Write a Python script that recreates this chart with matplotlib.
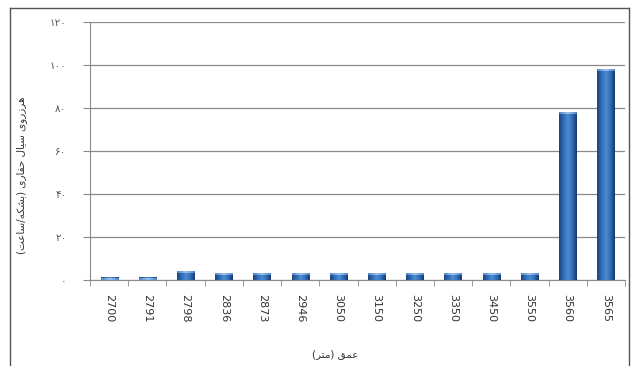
import numpy as np
import matplotlib
matplotlib.use("Agg")
import matplotlib.pyplot as plt
from matplotlib.colors import LinearSegmentedColormap
from matplotlib.lines import Line2D

depths = ["2700", "2791", "2798", "2836", "2873", "2946", "3050",
          "3150", "3250", "3350", "3450", "3550", "3560", "3565"]
mud_loss = [1, 1, 4, 3, 3, 3, 3, 3, 3, 3, 3, 3, 78, 98]
y_ticks = [0, 20, 40, 60, 80, 100, 120]

x_title = "عمق (متر)"
y_title = "هرزروی سیال حفاری (بشکه/ساعت)"

# presentation forms: isolated, final, initial, medial
FORMS = {
    "ا": ("\uFE8D", "\uFE8E", None, None),
    "ب": ("\uFE8F", "\uFE90", "\uFE91", "\uFE92"),
    "ت": ("\uFE95", "\uFE96", "\uFE97", "\uFE98"),
    "ح": ("\uFEA1", "\uFEA2", "\uFEA3", "\uFEA4"),
    "ر": ("\uFEAD", "\uFEAE", None, None),
    "ز": ("\uFEAF", "\uFEB0", None, None),
    "س": ("\uFEB1", "\uFEB2", "\uFEB3", "\uFEB4"),
    "ش": ("\uFEB5", "\uFEB6", "\uFEB7", "\uFEB8"),
    "ع": ("\uFEC9", "\uFECA", "\uFECB", "\uFECC"),
    "ف": ("\uFED1", "\uFED2", "\uFED3", "\uFED4"),
    "ق": ("\uFED5", "\uFED6", "\uFED7", "\uFED8"),
    "ل": ("\uFEDD", "\uFEDE", "\uFEDF", "\uFEE0"),
    "م": ("\uFEE1", "\uFEE2", "\uFEE3", "\uFEE4"),
    "ه": ("\uFEE9", "\uFEEA", "\uFEEB", "\uFEEC"),
    "و": ("\uFEED", "\uFEEE", None, None),
    "ی": ("\uFBFC", "\uFBFD", "\uFBFE", "\uFBFF"),
    "ک": ("\uFB8E", "\uFB8F", "\uFB90", "\uFB91"),
}
MIRROR = {"(": ")", ")": "("}


def shape(text):
    """Join Persian letters and return them in visual (left-to-right) order."""
    out = []
    for i, ch in enumerate(text):
        if ch not in FORMS:
            out.append(MIRROR.get(ch, ch))
            continue
        prev = text[i - 1] if i > 0 else ""
        nxt = text[i + 1] if i + 1 < len(text) else ""
        joins_prev = prev in FORMS and FORMS[prev][2] is not None
        joins_next = nxt in FORMS and FORMS[ch][2] is not None
        iso, fin, ini, med = FORMS[ch]
        if joins_prev and joins_next:
            out.append(med)
        elif joins_prev:
            out.append(fin)
        elif joins_next:
            out.append(ini)
        else:
            out.append(iso)
    return "".join(reversed(out))


def fa_digits(n):
    return str(n).translate(str.maketrans("0123456789", "۰۱۲۳۴۵۶۷۸۹"))


plt.rcParams['font.family'] = ['DejaVu Sans']

fig = plt.figure(figsize=(6.36, 3.66), dpi=100)
ax = fig.add_axes([90 / 636, 1 - 280 / 366, 535 / 636, 258 / 366])

# outer chart frame (bottom edge is cut off)
for xs, ys in [([10 / 636, 10 / 636], [0, 1 - 8 / 366]),
               ([10 / 636, 629 / 636], [1 - 8 / 366, 1 - 8 / 366]),
               ([629 / 636, 629 / 636], [0, 1 - 8 / 366])]:
    fig.add_artist(Line2D(xs, ys, color="#555555", lw=1.0))

bar_cmap = LinearSegmentedColormap.from_list(
    "cyl", ["#1c4478", "#2f6db8", "#4d8ad2", "#2f6db8", "#17396a"])
cap_cmap = LinearSegmentedColormap.from_list(
    "cap", ["#4f86c6", "#9cc3ee", "#4f86c6"])
gradient = np.linspace(0, 1, 64).reshape(1, -1)
width = 0.45
x = np.arange(len(depths))

for xi, val in zip(x, mud_loss):
    ax.imshow(gradient, cmap=bar_cmap, aspect="auto", origin="lower",
              extent=[xi - width / 2, xi + width / 2, 0, val], zorder=3)
    # lighter cap on top of each bar
    ax.imshow(gradient, cmap=cap_cmap, aspect="auto", origin="lower",
              extent=[xi - width / 2, xi + width / 2, max(val - 0.8, 0), val],
              zorder=4)

ax.set_xlim(-0.5, len(depths) - 0.5)
ax.set_ylim(0, 120)

ax.set_yticks(y_ticks)
ax.set_yticklabels([fa_digits(v) for v in y_ticks], fontsize=7.5, color="#555555")
ax.yaxis.grid(True, color="#8a8a8a", lw=0.9)
ax.set_axisbelow(True)

ax.set_xticks(x)
ax.set_xticklabels(depths, rotation=270, fontsize=8, color="#333333")
ax.set_xticks(np.arange(-0.5, len(depths)), minor=True)
ax.tick_params(axis="x", which="major", length=0, pad=10)
ax.tick_params(axis="x", which="minor", length=4, color="#8a8a8a")
ax.tick_params(axis="y", length=5, color="#8a8a8a", pad=12)

for side in ["top", "right"]:
    ax.spines[side].set_visible(False)
ax.spines["left"].set_color("#8a8a8a")
ax.spines["bottom"].set_color("#8a8a8a")

fig.text(335 / 636, 1 - 354 / 366, shape(x_title), ha="center", va="center",
         fontsize=7.5, color="#333333")
fig.text(22 / 636, 1 - 175 / 366, shape(y_title), ha="center", va="center",
         rotation=90, fontsize=7.5, color="#333333")

fig.savefig("out.png", dpi=100)
